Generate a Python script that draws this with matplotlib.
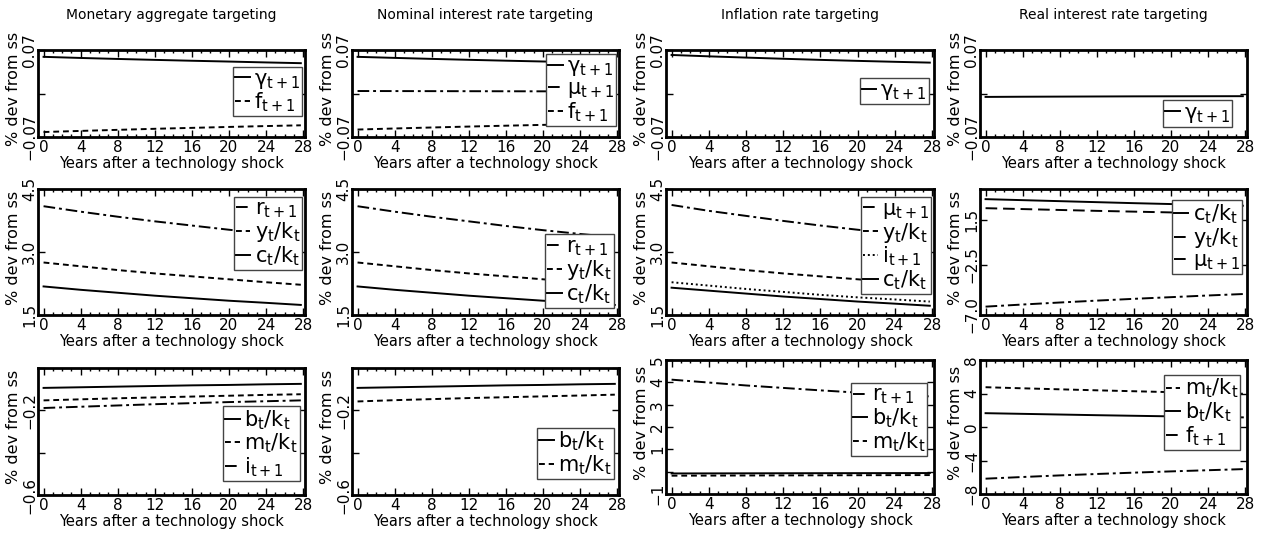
import matplotlib
matplotlib.use('Agg')
import matplotlib.pyplot as plt

plt.rcParams['font.family'] = ['DejaVu Sans']
plt.rcParams['mathtext.default'] = 'regular'

# years after the shock
years = [0, 4, 8, 12, 16, 20, 24, 27.75]

titles = ['Monetary aggregate targeting', 'Nominal interest rate targeting',
          'Inflation rate targeting', 'Real interest rate targeting']

# row 1 : money growth / inflation-type variables
mon_gamma = [0.059, 0.0572, 0.0556, 0.0541, 0.0527, 0.0514, 0.0500, 0.0488]
mon_f = [-0.062, -0.0602, -0.0585, -0.0568, -0.0553, -0.0538, -0.0524, -0.0512]
nom_gamma = [0.059, 0.0573, 0.0557, 0.0542, 0.0528, 0.0515, 0.0502, 0.0490]
nom_mu = [0.0040, 0.0039, 0.0038, 0.0037, 0.0036, 0.0035, 0.0034, 0.0033]
nom_f = [-0.058, -0.0563, -0.0547, -0.0532, -0.0518, -0.0505, -0.0493, -0.0482]
inf_gamma = [0.062, 0.0598, 0.0578, 0.0559, 0.0541, 0.0525, 0.0510, 0.0497]
real_gamma = [-0.0055, -0.0052, -0.0050, -0.0048, -0.0046, -0.0045, -0.0044, -0.0043]

# row 2 : ratios and rates
mon_r = [4.09, 3.96, 3.84, 3.73, 3.63, 3.53, 3.44, 3.36]
mon_yk = [2.75, 2.66, 2.57, 2.49, 2.42, 2.35, 2.28, 2.22]
mon_ck = [2.18, 2.10, 2.03, 1.96, 1.90, 1.84, 1.79, 1.74]
nom_r = [4.09, 3.96, 3.84, 3.73, 3.62, 3.52, 3.43, 3.35]
nom_yk = [2.75, 2.66, 2.57, 2.49, 2.42, 2.35, 2.28, 2.22]
nom_ck = [2.18, 2.10, 2.03, 1.96, 1.90, 1.84, 1.79, 1.74]
inf_mu = [4.12, 3.98, 3.86, 3.74, 3.63, 3.53, 3.44, 3.36]
inf_yk = [2.75, 2.66, 2.57, 2.49, 2.42, 2.35, 2.28, 2.22]
inf_i = [2.28, 2.20, 2.12, 2.05, 1.98, 1.92, 1.87, 1.82]
inf_ck = [2.15, 2.08, 2.01, 1.94, 1.88, 1.82, 1.77, 1.72]
real_ck = [3.39, 3.30, 3.21, 3.12, 3.03, 2.95, 2.87, 2.80]
real_yk = [2.58, 2.50, 2.42, 2.34, 2.27, 2.20, 2.13, 2.07]
real_mu = [-6.25, -6.06, -5.88, -5.71, -5.55, -5.40, -5.25, -5.12]

# row 3 : balances
mon_bk = [-0.094, -0.091, -0.088, -0.085, -0.082, -0.080, -0.077, -0.075]
mon_mk = [-0.153, -0.148, -0.143, -0.139, -0.135, -0.131, -0.127, -0.124]
mon_i = [-0.189, -0.183, -0.177, -0.171, -0.166, -0.161, -0.157, -0.153]
nom_bk = [-0.094, -0.091, -0.088, -0.085, -0.082, -0.080, -0.077, -0.075]
nom_mk = [-0.158, -0.152, -0.147, -0.142, -0.138, -0.134, -0.130, -0.126]
inf_r = [4.12, 3.99, 3.86, 3.75, 3.64, 3.54, 3.45, 3.37]
inf_bk = [-0.080, -0.077, -0.074, -0.071, -0.068, -0.066, -0.064, -0.062]
inf_mk = [-0.180, -0.176, -0.171, -0.167, -0.163, -0.159, -0.155, -0.152]
real_mk = [4.75, 4.62, 4.50, 4.38, 4.27, 4.16, 4.06, 3.97]
real_bk = [1.65, 1.57, 1.49, 1.41, 1.34, 1.27, 1.21, 1.15]
real_f = [-6.17, -5.97, -5.78, -5.61, -5.45, -5.30, -5.16, -5.03]

SOLID = '-'
DASH = (0, (3, 2))
LDASH = (0, (6, 3))
DDOT = (0, (6, 2, 1.5, 2))
DOT = (0, (1, 1.5))

G = r'$\gamma_{t+1}$'
MU = r'$\mu_{t+1}$'
F = r'$f_{t+1}$'
R = r'$r_{t+1}$'
I = r'$i_{t+1}$'
YK = r'$y_t/k_t$'
CK = r'$c_t/k_t$'
BK = r'$b_t/k_t$'
MK = r'$m_t/k_t$'

# (row, col): series, ylim, yticks, yticklabels, legend anchor (upper right)
panels = {
    (0, 0): ([(G, mon_gamma, SOLID), (F, mon_f, DASH)],
             (-0.07, 0.07), [-0.07, 0, 0.07], ['−0.07', '', '0.07'], (0.99, 0.81)),
    (0, 1): ([(G, nom_gamma, SOLID), (MU, nom_mu, DDOT), (F, nom_f, DASH)],
             (-0.07, 0.07), [-0.07, 0, 0.07], ['−0.07', '', '0.07'], (0.99, 0.95)),
    (0, 2): ([(G, inf_gamma, SOLID)],
             (-0.07, 0.07), [-0.07, 0, 0.07], ['−0.07', '', '0.07'], (0.98, 0.68)),
    (0, 3): ([(G, real_gamma, SOLID)],
             (-0.07, 0.07), [-0.07, 0, 0.07], ['−0.07', '', '0.07'], (0.945, 0.42)),
    (1, 0): ([(R, mon_r, DDOT), (YK, mon_yk, DASH), (CK, mon_ck, SOLID)],
             (1.5, 4.5), [1.5, 3.0, 4.5], ['1.5', '3.0', '4.5'], (0.99, 0.94)),
    (1, 1): ([(R, nom_r, DDOT), (YK, nom_yk, DASH), (CK, nom_ck, SOLID)],
             (1.5, 4.5), [1.5, 3.0, 4.5], ['1.5', '3.0', '4.5'], (0.98, 0.64)),
    (1, 2): ([(MU, inf_mu, DDOT), (YK, inf_yk, DASH), (I, inf_i, DOT), (CK, inf_ck, SOLID)],
             (1.5, 4.5), [1.5, 3.0, 4.5], ['1.5', '3.0', '4.5'], (0.99, 0.94)),
    (1, 3): ([(CK, real_ck, SOLID), (YK, real_yk, LDASH), (MU, real_mu, DDOT)],
             (-7.0, 4.3), [-7.0, -2.5, 1.5], ['−7.0', '−2.5', '1.5'], (0.98, 0.91)),
    (2, 0): ([(BK, mon_bk, SOLID), (MK, mon_mk, DASH), (I, mon_i, DDOT)],
             (-0.6, 0.0), [-0.6, -0.4, -0.2, 0.0], ['−0.6', '', '−0.2', ''], (0.98, 0.70)),
    (2, 1): ([(BK, nom_bk, SOLID), (MK, nom_mk, DASH)],
             (-0.6, 0.0), [-0.6, -0.4, -0.2, 0.0], ['−0.6', '', '−0.2', ''], (0.98, 0.53)),
    (2, 2): ([(R, inf_r, DDOT), (BK, inf_bk, SOLID), (MK, inf_mk, DASH)],
             (-1, 5), [-1, 0, 1, 2, 3, 4, 5], ['−1', '', '1', '2', '3', '4', '5'], (0.975, 0.83)),
    (2, 3): ([(MK, real_mk, DASH), (BK, real_bk, SOLID), (F, real_f, DDOT)],
             (-8, 8), [-8, -4, 0, 4, 8], ['−8', '−4', '0', '4', '8'], (0.975, 0.89)),
}

W, H = 1265, 533
col_x = [(38, 305), (352, 619), (666, 934), (980, 1247)]
row_y = [(50, 137), (189, 315), (368, 495)]

fig = plt.figure(figsize=(W / 100, H / 100), dpi=100)

for (r, c), (series, ylim, yt, ytl, anchor) in panels.items():
    x0, x1 = col_x[c]
    y0, y1 = row_y[r]
    if r == 2 and c >= 2:
        y0, y1 = 360, 494
    ax = fig.add_axes([x0 / W, 1 - y1 / H, (x1 - x0) / W, (y1 - y0) / H])
    for lab, vals, ls in series:
        ax.plot(years, vals, color='black', lw=1.4, linestyle=ls, label=lab)
    ax.set_xlim(-0.6, 28.2)
    ax.set_ylim(*ylim)
    ax.set_xticks(range(0, 29, 4))
    ax.set_xticks(range(0, 29, 1), minor=True)
    ax.set_yticks(yt)
    ax.set_yticklabels(ytl, rotation=90, va='center')
    ax.tick_params(which='both', direction='in', top=True, right=True,
                   labelsize=11, width=1)
    ax.tick_params(axis='x', which='major', length=5, pad=2)
    ax.tick_params(axis='x', which='minor', length=2.5)
    ax.tick_params(axis='y', which='major', length=5, pad=0.5)
    for sp in ax.spines.values():
        sp.set_linewidth(2)
    ax.annotate('Years after a technology shock', xy=(0.5, 0), xycoords='axes fraction',
                xytext=(0, -19), textcoords='offset points',
                ha='center', va='center', fontsize=10.5)
    ax.annotate('% dev from ss', xy=(0, 0.5), xycoords='axes fraction',
                xytext=(-17.5, 3), textcoords='offset points', rotation=90,
                ha='center', va='center', fontsize=11.5)
    leg = ax.legend(loc='upper right', bbox_to_anchor=anchor, fontsize=15,
                    handlelength=0.7, handletextpad=0.2, labelspacing=0.0,
                    borderpad=0.1, borderaxespad=0, fancybox=False, framealpha=1)
    leg.get_frame().set_edgecolor('#444444')
    leg.get_frame().set_linewidth(1)
    if r == 0:
        fig.text((x0 + x1) / 2 / W, 1 - 15 / H, titles[c], ha='center', va='center',
                 fontsize=10)

fig.savefig('out.png', dpi=100)
